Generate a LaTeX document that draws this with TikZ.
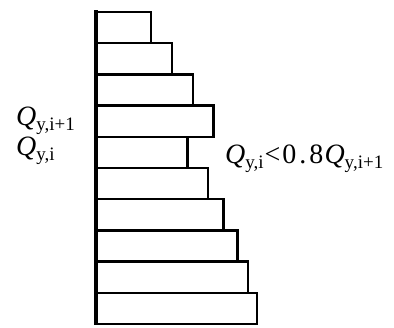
\documentclass[tikz,border=0pt]{standalone}
\usepackage{fontspec}
\setmainfont{Liberation Serif}
\newcommand{\Qsub}[1]{\textit{Q}\raisebox{-0.45ex}{\fontsize{19}{19}\selectfont #1}}
\begin{document}
\begin{tikzpicture}[x=1pt,y=-1pt,
  bar/.style={draw=black,line width=2.4pt},
  axis/.style={draw=black,line width=3.4pt},
  lbl/.style={anchor=base west,inner sep=0pt,font=\fontsize{28}{28}\selectfont}]
\useasboundingbox (0,0) rectangle (394,327);
\foreach \i/\r in {1/151,2/171.7,3/192.7,4/213.3,5/187.3,6/207.7,7/223.3,8/237.3,9/247.7,10/256.7}{
  \draw[bar] (96,{12+(\i-1)*31.2}) rectangle (\r,{12+\i*31.2});
}
\coordinate (top) at (96,10);
\coordinate (bot) at (96,325);
\draw[axis] (top) -- (bot);
\node[lbl] (q1) at (16,125) {\Qsub{y,i+1}};
\node[lbl] (q2) at (16,155) {\Qsub{y,i}};
\node[lbl] (q3) at (225,163) {\Qsub{y,i}\kern1pt<\kern2pt0\kern3pt.\kern3pt8\kern1pt\Qsub{y,i+1}};
\end{tikzpicture}
\end{document}
